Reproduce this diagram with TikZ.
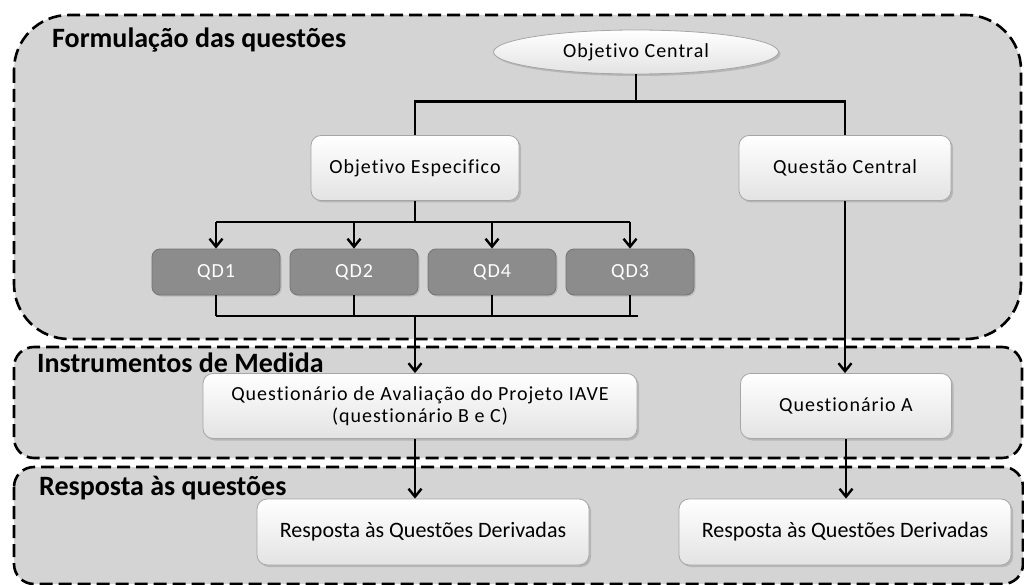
\documentclass[tikz,border=0pt]{standalone}
\usepackage{fontspec}
\setmainfont{Carlito}[Ligatures={NoCommon}]
\newfontfamily\boxfont[LetterSpace=5,Ligatures={NoCommon}]{Carlito}
\usetikzlibrary{arrows.meta,shadows,shapes.geometric}
\definecolor{panelgray}{RGB}{212,212,212}
\definecolor{qdgray}{RGB}{140,140,140}

\begin{document}
\begin{tikzpicture}[x=1pt,y=-1pt,
	panel/.style={draw, dash pattern=on 13pt off 6pt, line width=2.6pt, fill=panelgray},
	titulo/.style={anchor=west, inner sep=0pt, font=\bfseries\fontsize{28}{32}\selectfont},
	caixa/.style={draw=gray!70, line width=0.8pt, rounded corners=10pt, top color=white, bottom color=gray!22,
		drop shadow={opacity=0.35, shadow xshift=2pt, shadow yshift=-2pt},
		align=center, inner sep=0pt, font=\boxfont\fontsize{20}{22}\selectfont},
	qd/.style={draw=gray!90!black, line width=0.8pt, rounded corners=8pt, fill=qdgray, text=white,
		drop shadow={opacity=0.3, shadow xshift=1.5pt, shadow yshift=-1.5pt},
		minimum width=128pt, minimum height=46pt, inner sep=0pt, font=\boxfont\fontsize{20}{22}\selectfont},
	liga/.style={line width=2.6pt},
	seta/.style={line width=2.6pt, -{Straight Barb[length=8pt,width=13pt,line width=2.4pt]}}]
	\useasboundingbox (0,0) rectangle (1024,585);
	% the three dashed areas
	\begin{scope}
		\clip (0,0) rectangle (1024,585);
		\draw[panel, rounded corners=55pt] (14,15) rectangle (1021,339);
		\draw[panel, rounded corners=20pt] (14,347) rectangle (1022,458);
		\draw[panel, rounded corners=20pt] (14,467) rectangle (1023,584);
	\end{scope}
	\node[titulo] (t1) at (52,40) {Formulação das questões};
	\node[titulo] (t2) at (37,363) {Instrumentos de Medida};
	\node[titulo] (t3) at (39,488) {Resposta às questões};

	% nodes
	\node[caixa, ellipse, rounded corners=0pt, minimum width=285pt, minimum height=44pt] (oc) at (636,52) {Objetivo Central};
	\node[caixa, minimum width=208pt, minimum height=65pt] (oe) at (415,168) {Objetivo Especifico};
	\node[caixa, minimum width=212pt, minimum height=65pt] (qc) at (845,168) {Questão Central};
	\foreach \n/\x in {1/216,2/354,4/492,3/630}
		\node[qd] (qd\n) at (\x,272) {QD\n};
	\node[caixa, minimum width=434pt, minimum height=65pt] (qab) at (420,406) {Questionário de Avaliação do Projeto IAVE\\(questionário B e C)};
	\node[caixa, minimum width=211pt, minimum height=65pt] (qa) at (846,406) {Questionário A};
	\node[caixa, minimum width=332pt, minimum height=66pt, font=\fontsize{22}{25}\selectfont] (r1) at (423,532) {Resposta às Questões Derivadas};
	\node[caixa, minimum width=332pt, minimum height=66pt, font=\fontsize{22}{25}\selectfont] (r2) at (845,532) {Resposta às Questões Derivadas};

	% connectors
	\draw[liga] (oc.south) -- ++(0,27) coordinate (j1);
	\draw[liga] (oe.north) |- (j1) -| (qc.north);
	\draw[liga] (oe.south) -- ++(0,21) coordinate (j2);
	\draw[liga] (j2 -| qd1) -- (j2 -| qd3);
	\foreach \n in {1,2,4,3}
		\draw[seta] (j2 -| qd\n) -- (qd\n.north);
	\coordinate (j3) at (oe |- 0,316);
	\foreach \n in {1,2,4,3}
		\draw[liga] (qd\n.south) -- (qd\n.south |- j3);
	\draw[liga] (j3 -| qd1) -- ([xshift=8pt]j3 -| qd3);
	\draw[seta] (j3) -- (j3 |- qab.north);
	\draw[seta] (qc.south) -- (qc.south |- qa.north);
	\draw[seta] (j3 |- qab.south) -- (j3 |- r1.north);
	\draw[seta] (qa.south) -- (qa.south |- r2.north);
\end{tikzpicture}
\end{document}
